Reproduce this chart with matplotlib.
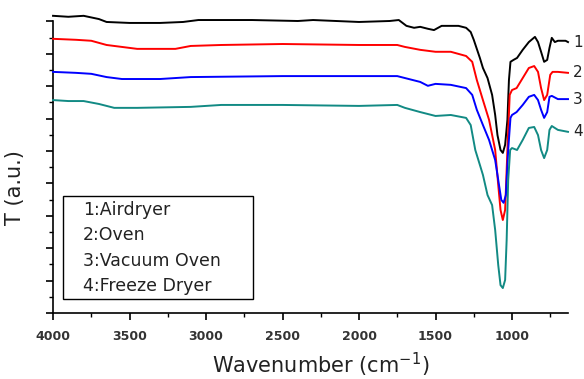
import matplotlib.pyplot as plt
from matplotlib.patches import Rectangle
from matplotlib.ticker import MultipleLocator

# FTIR spectra (wavenumber, transmittance in a.u.)
wn_black = [4000, 3900, 3800, 3700, 3650, 3500, 3300, 3150, 3050, 2700, 2400, 2300, 2000, 1800, 1740,
            1690, 1640, 1600, 1550, 1510, 1460, 1350, 1300, 1270, 1250, 1210, 1190, 1160, 1130, 1110,
            1095, 1075, 1060, 1045, 1030, 1020, 1010, 990, 967, 930, 890, 850, 830, 810, 790, 770,
            755, 740, 720, 700, 650, 634]
t_black = [91.7, 91.4, 91.7, 90.7, 89.8, 89.5, 89.5, 89.8, 90.4, 90.4, 90.1, 90.4, 89.8, 90.1, 90.4,
           88.6, 88.0, 88.3, 87.7, 87.3, 88.6, 88.6, 88.0, 86.7, 84.3, 78.7, 75.6, 72.5, 67.3, 61.1,
           54.9, 50.3, 49.4, 51.9, 59.6, 71.9, 77.5, 78.1, 78.7, 81.2, 83.6, 85.2, 83.6, 80.6, 77.5, 78.1,
           81.8, 84.9, 83.6, 84.0, 84.0, 83.6]

wn_red = [4000, 3850, 3750, 3650, 3550, 3450, 3200, 3100, 2900, 2500, 2000, 1750, 1700, 1600, 1500,
          1400, 1300, 1260, 1230, 1190, 1150, 1110, 1090, 1075, 1060, 1045, 1030, 1015, 1000, 970,
          930, 890, 855, 830, 810, 790, 770, 750, 735, 700, 634]
t_red = [84.6, 84.3, 84.0, 82.7, 82.1, 81.5, 81.5, 82.4, 82.7, 83.0, 82.7, 82.7, 82.1, 81.2, 80.6,
         80.6, 79.3, 77.5, 71.9, 65.7, 59.6, 50.3, 39.5, 31.8, 28.7, 31.8, 50.3, 67.3, 68.8, 69.4,
         72.5, 75.6, 76.2, 74.4, 69.4, 65.7, 67.3, 73.5, 74.4, 74.4, 74.1]

wn_blue = [4000, 3850, 3750, 3650, 3550, 3300, 3100, 2500, 2000, 1750, 1700, 1600, 1550, 1500, 1400,
           1300, 1260, 1230, 1190, 1150, 1110, 1085, 1070, 1055, 1040, 1025, 1010, 1000, 970, 930,
           890, 855, 830, 810, 790, 770, 755, 740, 700, 634]
t_blue = [74.4, 74.1, 73.8, 72.8, 72.2, 72.2, 72.8, 73.1, 73.1, 73.1, 72.5, 71.3, 70.1, 70.7, 70.4,
          69.4, 67.3, 62.7, 58.0, 53.4, 47.2, 39.5, 34.9, 34.0, 36.4, 50.3, 60.2, 61.1, 62.0, 64.2,
          66.7, 67.3, 65.7, 62.7, 60.2, 62.0, 66.7, 67.0, 66.0, 66.0]

wn_teal = [4000, 3900, 3800, 3700, 3600, 3450, 3100, 2900, 2500, 2000, 1750, 1700, 1600, 1550, 1500,
           1400, 1300, 1270, 1240, 1210, 1190, 1160, 1130, 1110, 1090, 1075, 1060, 1045, 1035, 1025,
           1012, 1000, 967, 930, 890, 855, 830, 810, 790, 770, 755, 740, 700, 634]
t_teal = [65.7, 65.4, 65.4, 64.5, 63.3, 63.3, 63.6, 64.2, 64.2, 63.9, 64.2, 63.3, 62.0, 61.4, 60.8,
          61.1, 60.2, 58.0, 50.3, 45.7, 42.6, 36.4, 33.3, 25.6, 14.8, 8.6, 7.7, 10.2, 22.5, 41.0,
          50.3, 50.9, 50.3, 53.4, 57.1, 57.4, 54.9, 50.3, 47.8, 50.3, 56.5, 57.7, 56.5, 55.9]

labels = ["1:Airdryer", "2:Oven", "3:Vacuum Oven", "4:Freeze Dryer"]
tags = ["1", "2", "3", "4"]
colors = ["black", "#ff0000", "#0000ff", "#128a84"]

fig = plt.figure(figsize=(5.84, 3.79), dpi=100)
ax = fig.add_axes([0.0908, 0.1741, 0.8818, 0.7705])

series = [(wn_black, t_black), (wn_red, t_red), (wn_blue, t_blue), (wn_teal, t_teal)]
for (wn, t), c, tag in zip(series, colors, tags):
    ax.plot(wn, t, color=c, lw=1.4, clip_on=False, zorder=3)
    ax.annotate(tag, xy=(wn[-1], t[-1]), xytext=(3.5, 0), textcoords="offset points",
                va="center", ha="left", fontsize=11, color="#222222",
                family="DejaVu Sans", annotation_clip=False)

ax.set_xlim(4000, 634)
ax.set_ylim(0, 90.1)
ax.xaxis.set_major_locator(MultipleLocator(500))
ax.xaxis.set_minor_locator(MultipleLocator(250))
ax.yaxis.set_major_locator(MultipleLocator(10))
ax.yaxis.set_minor_locator(MultipleLocator(5))
ax.set_yticklabels([])

for side in ["top", "right"]:
    ax.spines[side].set_visible(False)
for side in ["left", "bottom"]:
    ax.spines[side].set_linewidth(1.2)

ax.tick_params(which="major", direction="out", length=5, width=1.2, colors="black")
ax.tick_params(which="minor", direction="out", length=3, width=1.0, colors="black")
ax.tick_params(axis="x", which="major", pad=7, labelsize=9, labelcolor="#333333")
for lab in ax.get_xticklabels():
    lab.set_fontweight("bold")
    lab.set_family("DejaVu Sans")

ax.set_xlabel("Wavenumber (cm$^{-1}$)", fontsize=15, color="#222222", family="DejaVu Sans")
ax.xaxis.set_label_coords(0.52, -0.13)
ax.set_ylabel("T (a.u.)", fontsize=15, color="#222222", family="DejaVu Sans")
ax.yaxis.set_label_coords(-0.055, 0.43)

# boxed legend in the lower left
ax.add_patch(Rectangle((0.019, 0.048), 0.369, 0.352, transform=ax.transAxes,
                       fill=False, ec="black", lw=1.0, zorder=4))
for i, lab in enumerate(labels):
    ax.text(0.058, 0.353 - i * 0.087, lab, transform=ax.transAxes, fontsize=12.5,
            va="center", ha="left", color="#222222", family="DejaVu Sans", zorder=5)

fig.savefig("out.png", dpi=100)
